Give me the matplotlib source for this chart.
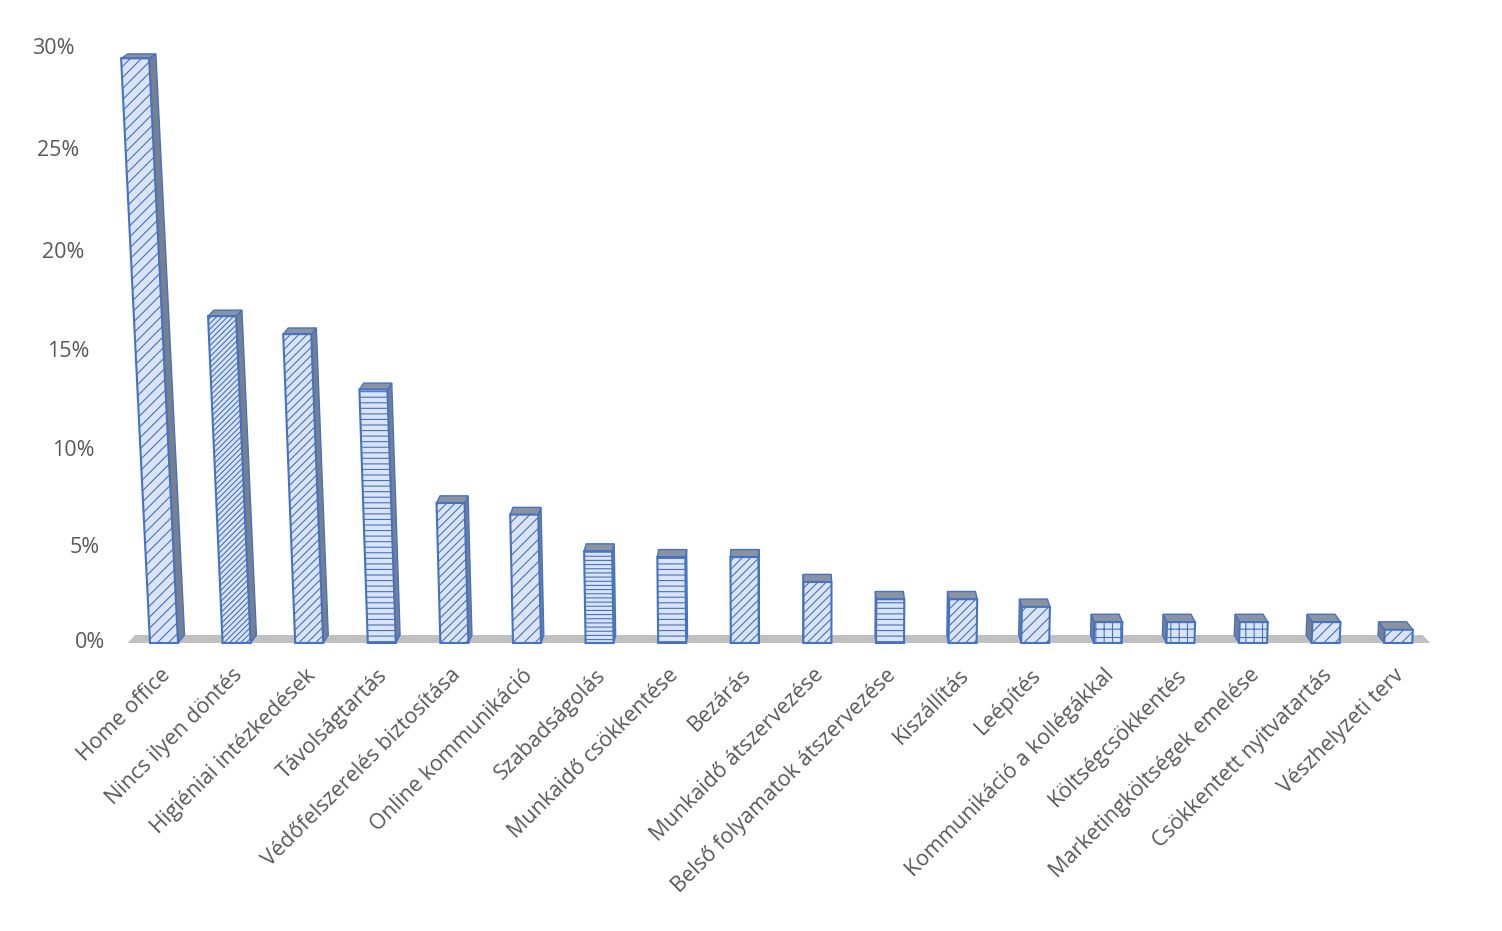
import numpy as np
import matplotlib
matplotlib.use("Agg")
import matplotlib.pyplot as plt
from matplotlib.patches import Polygon
from matplotlib.transforms import ScaledTranslation, Affine2D

categories = ["Home office", "Nincs ilyen döntés", "Higiéniai intézkedések", "Távolságtartás",
              "Védőfelszerelés biztosítása", "Online kommunikáció", "Szabadságolás",
              "Munkaidő csökkentése", "Bezárás", "Munkaidő átszervezése",
              "Belső folyamatok átszervezése", "Kiszállítás", "Leépítés",
              "Kommunikáció a kollégákkal", "Költségcsökkentés", "Marketingköltségek emelése",
              "Csökkentett nyitvatartás", "Vészhelyzeti terv"]
values = [29.5, 16.8, 15.9, 13.1, 7.3, 6.7, 4.8, 4.5, 4.5, 3.2, 2.3, 2.3, 1.9, 1.1, 1.1, 1.1, 1.1, 0.7]
yticks = [0, 5, 10, 15, 20, 25, 30]
ytick_labels = [f"{t}%" for t in yticks]
hatches = ['///', '//////', '////', '---', '////', '///', '----', '---', '////', '////',
           '---', '////', '///', '++', '++', '++', '///', '///']

plt.rcParams['font.family'] = ['Open Sans', 'DejaVu Sans']
plt.rcParams['hatch.linewidth'] = 0.8

TEXT = '#595959'
BLUE = '#4472c4'
FACE = '#dbe4f4'
SIDE = '#78808e'
TOP = '#8c93a0'
FLOOR = '#c0c0c0'

fig = plt.figure(figsize=(15.02, 9.31), dpi=100)
ax = fig.add_axes([127.7 / 1502, (931 - 643) / 931, (1434.5 - 127.7) / 1502, 595 / 931])

# mild perspective compression of the value axis
A = 0.00152
def fwd(v):
    v = np.asarray(v, dtype=float)
    return v + A * v * v
def inv(u):
    u = np.asarray(u, dtype=float)
    return (-1 + np.sqrt(np.maximum(1 + 4 * A * u, 0))) / (2 * A)
ax.set_yscale('function', functions=(fwd, inv))

n = len(categories)
x = np.arange(n)
w = 0.386
center = 8.7

ax.set_xlim(-0.5, n - 0.5)
ax.set_ylim(0, 30)

# floor
floor = Polygon([(-0.5, 0), (n - 0.56, 0), (n - 0.66, 0.42), (-0.4, 0.42)],
                closed=True, facecolor=FLOOR, edgecolor='none', zorder=1, clip_on=False)
ax.add_patch(floor)

bars = ax.bar(x, values, width=w, color=FACE, edgecolor=BLUE, linewidth=1.5, zorder=3)

# perspective lean + side and top faces (depth effect)
for i, (b, v, h) in enumerate(zip(bars, values, hatches)):
    k = 0.00155 * (center - i)
    lean = Affine2D(np.array([[1.0, -k, 0.0], [0.0, 1.0, 0.0], [0.0, 0.0, 1.0]])) + ax.transData
    b.set_hatch(h)
    b.set_transform(lean)
    b.set_clip_on(False)
    dx = 0.011 * (center - i)
    dyb = 0.42
    dyt = 0.42 - 0.007 * v
    edge_x = x[i] + w / 2 if dx > 0 else x[i] - w / 2
    side = Polygon([(edge_x, 0), (edge_x + dx, dyb), (edge_x + dx, v + dyt), (edge_x, v)],
                   closed=True, facecolor=SIDE, edgecolor=BLUE, linewidth=1.0, zorder=2,
                   transform=lean, clip_on=False)
    ax.add_patch(side)
    top = Polygon([(x[i] - w / 2, v), (x[i] + w / 2, v), (x[i] + w / 2 + dx, v + dyt),
                   (x[i] - w / 2 + dx, v + dyt)],
                  closed=True, facecolor=TOP, edgecolor=BLUE, linewidth=1.0, zorder=2,
                  transform=lean, clip_on=False)
    ax.add_patch(top)

for s in ax.spines.values():
    s.set_visible(False)
ax.set_yticks([])
ax.set_xticks(x)
ax.set_xticklabels(categories, rotation=45, ha='right', va='center',
                   rotation_mode='anchor', fontsize=15.5, color=TEXT)
ax.tick_params(axis='x', length=0, pad=21)
for lab in ax.get_xticklabels():
    lab.set_transform(lab.get_transform() + ScaledTranslation(0.03, 0, fig.dpi_scale_trans))

# value axis labels (shift left slightly with height, as in the perspective view)
for t, lab in zip(yticks, ytick_labels):
    tr = ax.get_yaxis_transform() + ScaledTranslation(-(23 + 1.0 * t) / 100, 0, fig.dpi_scale_trans)
    ax.text(0, t, lab, transform=tr, ha='right', va='center', fontsize=15.5, color=TEXT,
            clip_on=False)

ax.patch.set_alpha(0)
fig.savefig('out.png', dpi=100)
